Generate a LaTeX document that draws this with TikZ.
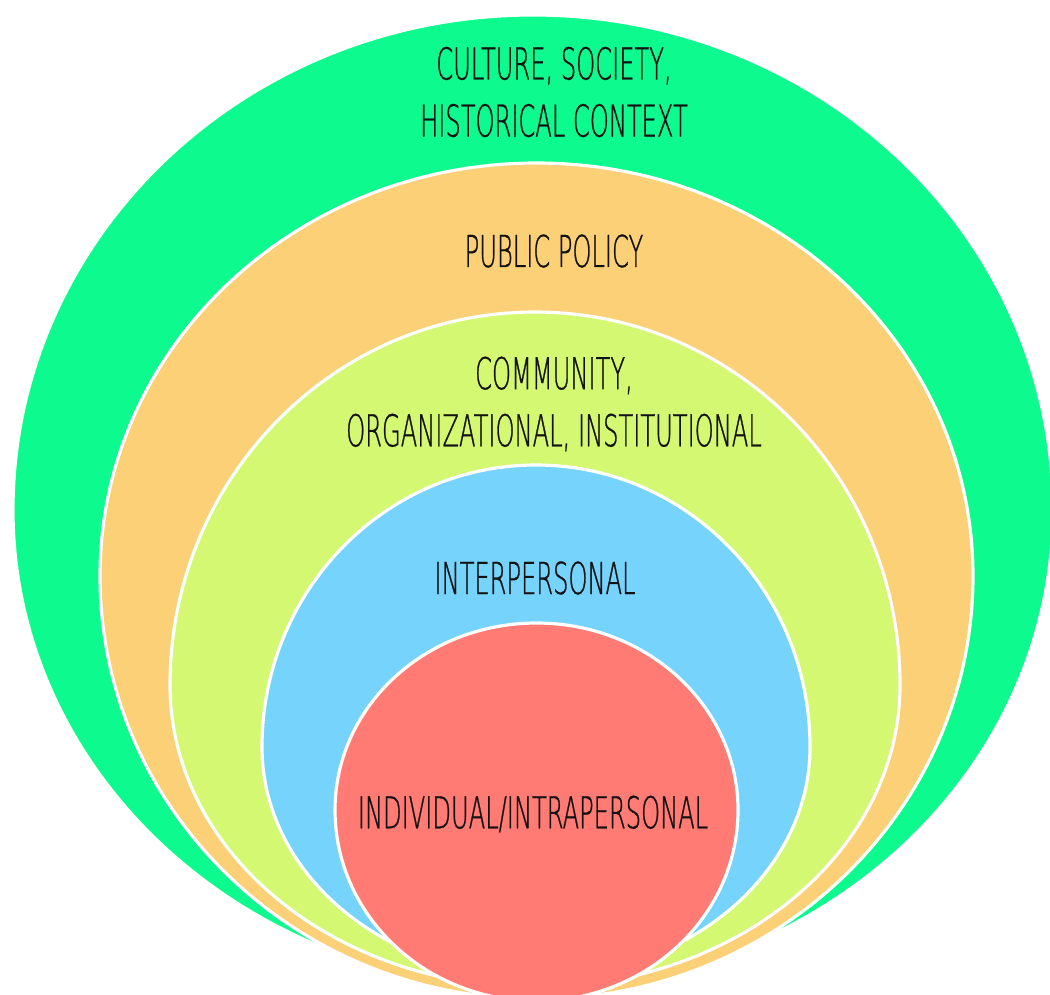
\documentclass[tikz,border=0pt]{standalone}
\usepackage{fontspec}
\newfontfamily\ringfont{DejaVu Sans ExtraLight}[FakeStretch=0.55, FakeBold=0.6]

\definecolor{culturegreen}{RGB}{12,250,142}
\definecolor{policyorange}{RGB}{252,208,119}
\definecolor{communitylime}{RGB}{212,248,114}
\definecolor{interblue}{RGB}{118,211,252}
\definecolor{selfred}{RGB}{255,123,116}
\definecolor{inkdark}{RGB}{18,18,18}

\tikzset{
  ringline/.style={draw=white, line width=1.8pt},
  level/.style={font=\ringfont\fontsize{25}{32.5}\selectfont, text=inkdark, align=center}
}

\begin{document}
\begin{tikzpicture}[x=0.02cm, y=0.02cm]
  \clip (0,0) rectangle (1050,-994);
  \fill[white] (0,0) rectangle (1050,-994);

  % egg shaped rings, outer to inner: colour / centre x / top / widest / bottom / half width
  \foreach \col/\cx/\ytop/\ymid/\ybot/\rx in {
      culturegreen/533/15/510/988/520,
      policyorange/536.5/163/576/999/436.5,
      communitylime/535/312/685/987/365,
      interblue/536/465/747/977/274,
      selfred/536.5/623/810/1001/201.5}
    \filldraw[ringline, fill=\col] (\cx-\rx,-\ymid)
      arc[start angle=180, end angle=0, x radius=\rx, y radius=\ymid-\ytop]
      arc[start angle=0, end angle=-180, x radius=\rx, y radius=\ybot-\ymid] -- cycle;

  \node[level](culturetext) at (554,-92) {CULTURE, SOCIETY,\\HISTORICAL CONTEXT};
  \node[level](policytext) at (554,-251) {PUBLIC POLICY};
  \node[level](communitytext) at (554,-404) {COMMUNITY,\\ORGANIZATIONAL, INSTITUTIONAL};
  \node[level](intertext) at (535,-578) {INTERPERSONAL};
  \node[level](selftext) at (533,-814) {INDIVIDUAL/INTRAPERSONAL};
\end{tikzpicture}
\end{document}
